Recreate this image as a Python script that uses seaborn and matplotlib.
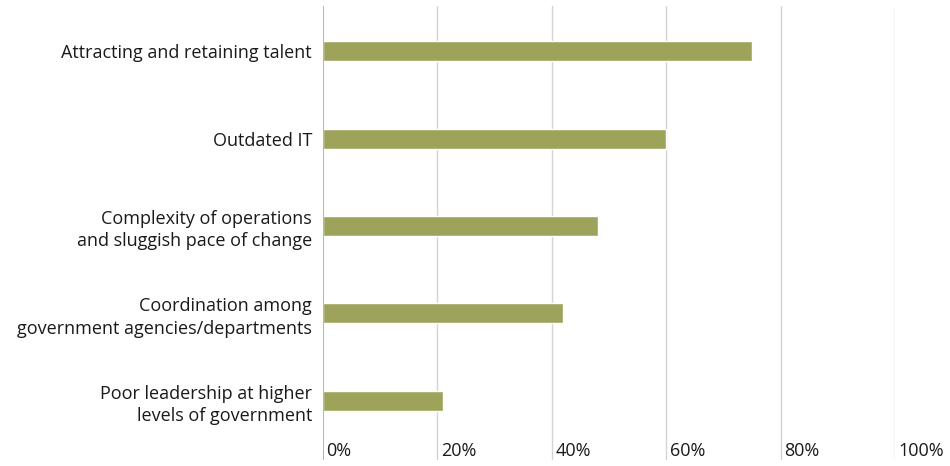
import matplotlib
matplotlib.use("Agg")
import matplotlib.pyplot as plt
import matplotlib.transforms as mtransforms
import seaborn as sns
import pandas as pd

categories = [
    "Attracting and retaining talent",
    "Outdated IT",
    "Complexity of operations\nand sluggish pace of change",
    "Coordination among\ngovernment agencies/departments",
    "Poor leadership at higher\nlevels of government",
]
values = [75, 60, 48, 42, 21]
xticks = [0, 20, 40, 60, 80, 100]
xtick_labels = ["0%", "20%", "40%", "60%", "80%", "100%"]

sns.set_theme(style="white")
plt.rcParams["font.family"] = ["Open Sans", "DejaVu Sans"]

df = pd.DataFrame({"cat": categories, "val": values})

fig = plt.figure(figsize=(9.5, 4.66), dpi=100)
ax = fig.add_axes([323 / 950, 6 / 466, (895 - 323) / 950, (460 - 6) / 466])

sns.barplot(data=df, x="val", y="cat", orient="h", color="#9da35a",
            width=0.23, saturation=1, ax=ax, zorder=3)

ax.set_xlim(0, 100)
ax.set_ylim(4.68, -0.52)
ax.set_xlabel("")
ax.set_ylabel("")
ax.set_xticks(xticks)
ax.set_xticklabels([])
ax.tick_params(axis="x", length=0)
ax.tick_params(axis="y", length=0, pad=8, labelsize=13, labelcolor="#1a1a1a")
for lab in ax.get_yticklabels():
    lab.set_horizontalalignment("right")
    lab.set_multialignment("right")
    lab.set_linespacing(1.3)

for x in xticks[1:]:
    ax.axvline(x, color="#d4d4d4", lw=1, zorder=1)
ax.axvline(0, color="#a6a6a6", lw=1.2, zorder=4)

trans = mtransforms.blended_transform_factory(ax.transData, ax.transAxes)
for x, lab in zip(xticks, xtick_labels):
    ax.text(x + 0.6, 0.0, lab, transform=trans, ha="left", va="bottom",
            fontsize=13, color="#1a1a1a")

for s in ax.spines.values():
    s.set_visible(False)

fig.savefig("out.png", dpi=100)
